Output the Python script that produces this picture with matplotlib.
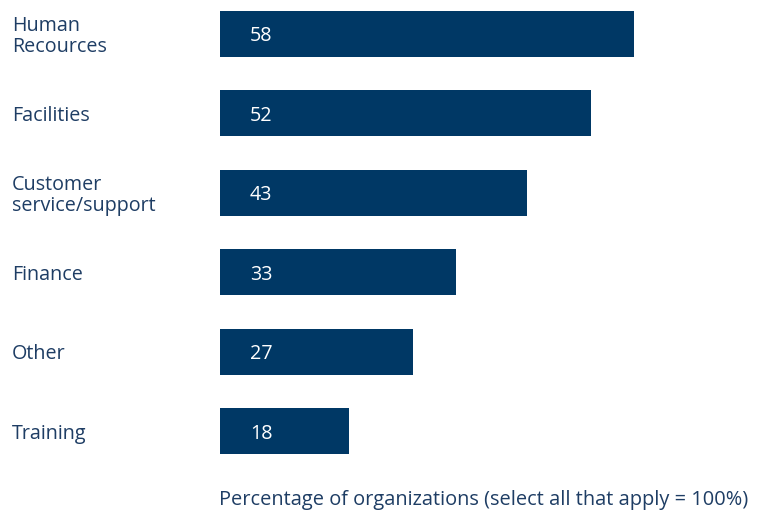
import matplotlib
matplotlib.use("Agg")
import matplotlib.pyplot as plt
from matplotlib.transforms import blended_transform_factory, offset_copy

# Data
categories = [
    "Human\nRecources",
    "Facilities",
    "Customer\nservice/support",
    "Finance",
    "Other",
    "Training",
]
values = [58, 52, 43, 33, 27, 18]
xlabel = "Percentage of organizations (select all that apply = 100%)"

bar_color = "#003865"
text_color = "#1e3d64"

plt.rcParams["font.family"] = ["Open Sans", "DejaVu Sans"]

fig = plt.figure(figsize=(7.63, 5.14), dpi=100)
ax = fig.add_axes([220 / 763, 1 - 470 / 514, 1 - 220 / 763, 470 / 514])

pos = list(range(len(categories)))
ax.barh(pos, values, height=0.58, color=bar_color)

ax.set_xlim(0, 543 / 7.14)
ax.set_ylim(5.49, -0.428)
ax.axis("off")

# value labels inside bars (nudged down a few px to sit on bar centre)
val_trans = offset_copy(ax.transData, fig=fig, y=-2.5, units="dots")
for p, v in zip(pos, values):
    ax.text(4.2, p, str(v), transform=val_trans, color="white",
            fontsize=14.2, ha="left", va="center")

# category labels at the left edge of the figure
trans = blended_transform_factory(fig.transFigure, ax.transData)
trans = offset_copy(trans, fig=fig, y=-2.5, units="dots")
for p, c in zip(pos, categories):
    ax.text(12 / 763, p, c, transform=trans, color=text_color,
            fontsize=14.2, ha="left", va="center", linespacing=1.1)

fig.text(219 / 763, 1 - 500 / 514, xlabel, color=text_color,
         fontsize=14.4, ha="left", va="center")

fig.savefig("out.png", dpi=100)
